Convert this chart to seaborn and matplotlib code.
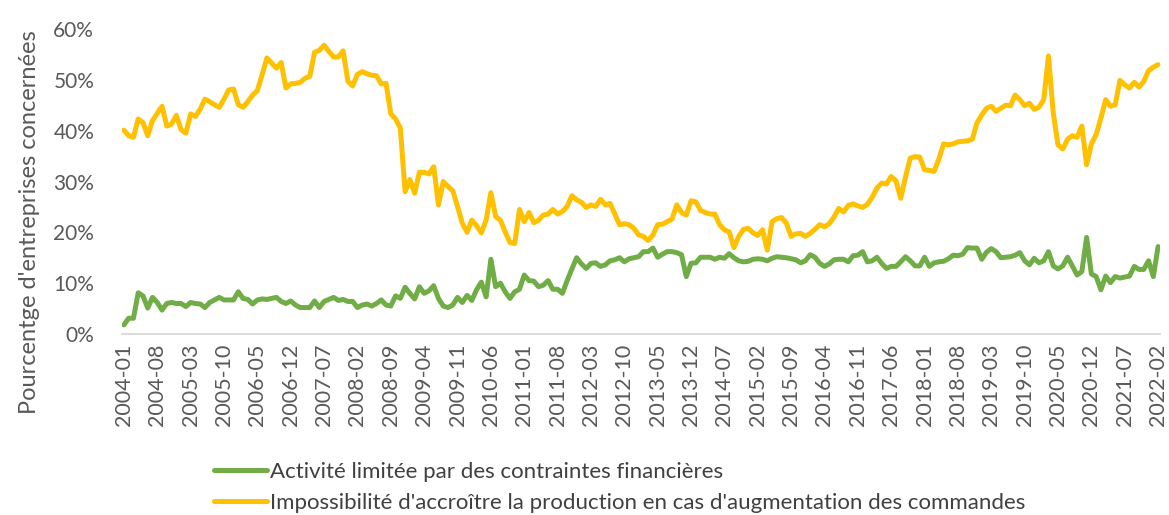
import matplotlib
matplotlib.use('Agg')
import matplotlib.pyplot as plt
import matplotlib.ticker as mtick
from matplotlib.lines import Line2D
import pandas as pd
import seaborn as sns

# monthly dates, 2004-01 to 2022-02
months = pd.period_range('2004-01', '2022-02', freq='M').strftime('%Y-%m').tolist()

label_green = 'Activité limitée par des contraintes financières'
label_yellow = "Impossibilité d'accroître la production en cas d'augmentation des commandes"

# share of firms (%)
contraintes_financieres = [
    1.8, 3.1, 3.1, 8.1, 7.5, 5.1, 7.2, 6.2, 4.7, 6.0, 6.2, 6.0, 6.0, 5.4, 6.2, 6.0, 5.9, 5.2, 6.2, 6.7,
    7.2, 6.7, 6.7, 6.7, 8.3, 7.0, 6.8, 5.9, 6.7, 6.9, 6.8, 7.0, 7.2, 6.4, 6.0, 6.5, 5.7, 5.2, 5.2, 5.2,
    6.5, 5.2, 6.4, 6.8, 7.2, 6.6, 6.8, 6.4, 6.4, 5.2, 5.7, 5.9, 5.5, 6.0, 6.7, 5.7, 5.5, 7.5, 7.0, 9.2,
    8.0, 6.9,
    9.3, 8.0, 8.5, 9.5, 7.0, 5.5, 5.2, 5.7, 7.2, 6.2, 7.6, 6.6, 8.7, 10.2, 7.3, 14.7, 9.3, 10.0, 8.3, 7.0,
    8.3, 8.8, 11.6, 10.5, 10.4, 9.3, 9.6, 10.5, 8.8, 8.8, 8.0,
    10.5, 12.8, 15.0, 13.8, 12.9, 13.9, 14.0, 13.3, 13.6, 14.4, 14.6, 15.0, 14.2, 14.8, 15.0, 15.2, 16.2,
    16.2, 16.9, 15.1, 15.7, 16.2, 16.2, 16.0, 15.6, 11.3, 13.9, 14.0, 15.1, 15.1, 15.1, 14.7, 15.1,
    14.9, 15.8, 15.0, 14.4, 14.2, 14.3, 14.7, 14.8, 14.7, 14.4, 14.9, 15.2, 15.1, 15.0, 14.8, 14.6, 14.0,
    14.4, 15.6, 15.1, 13.9, 13.3, 13.8, 14.6, 14.7, 14.7, 14.2, 15.4, 15.5, 16.2, 14.2,
    14.4, 15.1, 13.9, 12.9, 13.3, 13.3, 14.2, 15.2, 14.4, 13.4, 13.4, 15.1, 13.3, 14.0, 14.2, 14.3, 14.8,
    15.5, 15.4, 15.7, 17.0, 16.9, 16.9, 14.7, 16.1, 16.8, 16.2, 15.0, 15.1, 15.2, 15.5,
    16.0, 14.4, 13.6, 14.9, 14.0, 14.4, 16.2, 13.4, 12.8, 13.4, 15.1, 13.4, 11.6, 12.3, 19.0, 11.8, 11.3,
    8.7, 11.4, 10.1, 11.3, 11.0, 11.2, 11.4, 13.3, 12.7, 12.7, 14.4, 11.3, 17.2,
]

capacite_production = [
    40.1, 39.0, 38.7, 42.3, 41.6, 39.0, 42.0, 43.4, 44.8, 40.9, 41.3, 43.0, 40.2, 39.5, 43.3, 42.8, 44.2,
    46.2, 45.7, 45.1, 44.6, 46.2, 48.0, 48.2, 45.1, 44.6, 45.7, 47.0, 47.9, 51.0,
    54.3, 53.3, 52.3, 53.4, 48.4, 49.2, 49.3, 49.5, 50.3, 50.7, 55.4, 55.8, 56.8, 55.6, 54.5, 54.5, 55.7,
    49.7, 48.8, 51.1, 51.6, 51.2, 50.9, 50.8, 49.2, 49.3, 43.3, 42.3, 40.5, 28.0, 30.4, 27.7, 31.8,
    31.8, 31.5, 32.9, 25.4, 30.0, 29.0, 28.2, 25.1, 21.8, 20.0, 22.4, 21.3, 19.9, 22.4, 27.8, 23.1, 22.4,
    20.1, 18.0, 17.8, 24.5, 22.1, 23.9, 21.9, 22.4, 23.4, 23.6, 24.5, 23.6, 24.1,
    25.1, 27.2, 26.4, 25.9, 24.9, 25.4, 25.1, 26.5, 25.4, 25.7, 23.6, 21.5, 21.7, 21.5, 20.8, 19.5, 19.2,
    18.4, 19.5, 21.5, 21.6, 22.1, 22.6, 25.4, 23.9, 23.4, 26.2, 26.0, 24.3, 23.9, 23.6, 23.6,
    21.5, 20.5, 20.1, 17.0, 19.2, 20.6, 20.8, 19.9, 19.4, 20.5, 16.5, 22.1, 22.7, 22.9, 21.8, 19.2, 19.7,
    19.8, 19.2, 19.8, 20.6, 21.5, 21.1, 21.7, 23.0, 24.7, 24.0, 25.3, 25.6, 25.2, 24.9, 25.5,
    26.9, 28.7, 29.7, 29.5, 31.0, 30.1, 26.7, 30.9, 34.6, 34.9, 34.8, 32.3, 32.2, 32.0, 34.4, 37.4, 37.2,
    37.4, 37.8, 37.9, 38.0, 38.3, 41.5, 43.1, 44.4, 44.8, 43.8, 44.4, 45.0, 44.9, 47.0,
    46.1, 44.9, 45.4, 44.2, 44.6, 46.1, 54.7, 43.5, 37.2, 36.4, 38.3, 39.0, 38.7, 40.9, 33.3, 37.4, 39.2,
    42.5, 46.1, 44.8, 45.1, 49.9, 49.0, 48.4, 49.5, 48.6, 49.7, 51.8, 52.5, 53.0,
]

assert len(months) == len(contraintes_financieres) == len(capacite_production)

green = '#70AD47'
yellow = '#FFC000'
text_grey = '#595959'

df = pd.DataFrame({'pos': range(len(months)), 'mois': months,
                   label_green: contraintes_financieres, label_yellow: capacite_production})
long_df = df.melt(id_vars=['pos', 'mois'], var_name='serie', value_name='pct')

sns.set_style('white')
plt.rcParams['font.family'] = ['Lato', 'DejaVu Sans']

fig = plt.figure(figsize=(11.69, 5.15), dpi=100)
ax = fig.add_axes([122 / 1169, 1 - 334 / 515, (1160 - 122) / 1169, (334 - 29) / 515])

sns.lineplot(data=long_df, x='pos', y='pct', hue='serie',
             palette={label_green: green, label_yellow: yellow},
             linewidth=3.6, legend=False, ax=ax)

ax.set_xlim(-0.4, len(months) - 0.6)
ax.set_ylim(0, 60)
ax.yaxis.set_major_locator(mtick.MultipleLocator(10))
ax.yaxis.set_major_formatter(mtick.PercentFormatter(decimals=0))

tick_pos = list(range(0, len(months), 7))
ax.set_xticks(tick_pos)
ax.set_xticklabels([months[p] for p in tick_pos], rotation=90)

ax.tick_params(axis='x', length=0, labelsize=15.5, colors=text_grey, pad=7)
ax.tick_params(axis='y', length=0, labelsize=15, colors=text_grey, pad=20)
ax.set_xlabel('')
ax.set_ylabel('')

for side in ['top', 'right', 'left']:
    ax.spines[side].set_visible(False)
ax.spines['bottom'].set_color('#D9D9D9')
ax.spines['bottom'].set_linewidth(1.3)
ax.grid(False)

fig.text(30 / 1169, 1 - 222 / 515, "Pourcentge d'entreprises concernées", rotation=90,
         ha='center', va='center', fontsize=17, color=text_grey)

handles = [Line2D([], [], color=green, linewidth=3.6),
           Line2D([], [], color=yellow, linewidth=3.6)]
fig.legend(handles, [label_green, label_yellow], loc='upper left',
           bbox_to_anchor=(198 / 1169, 1 - 446 / 515), frameon=False,
           fontsize=16, handlelength=2.4, handletextpad=0.15, labelspacing=0.5,
           labelcolor='#404040', borderpad=0.2)

fig.savefig('out.png', dpi=100)
